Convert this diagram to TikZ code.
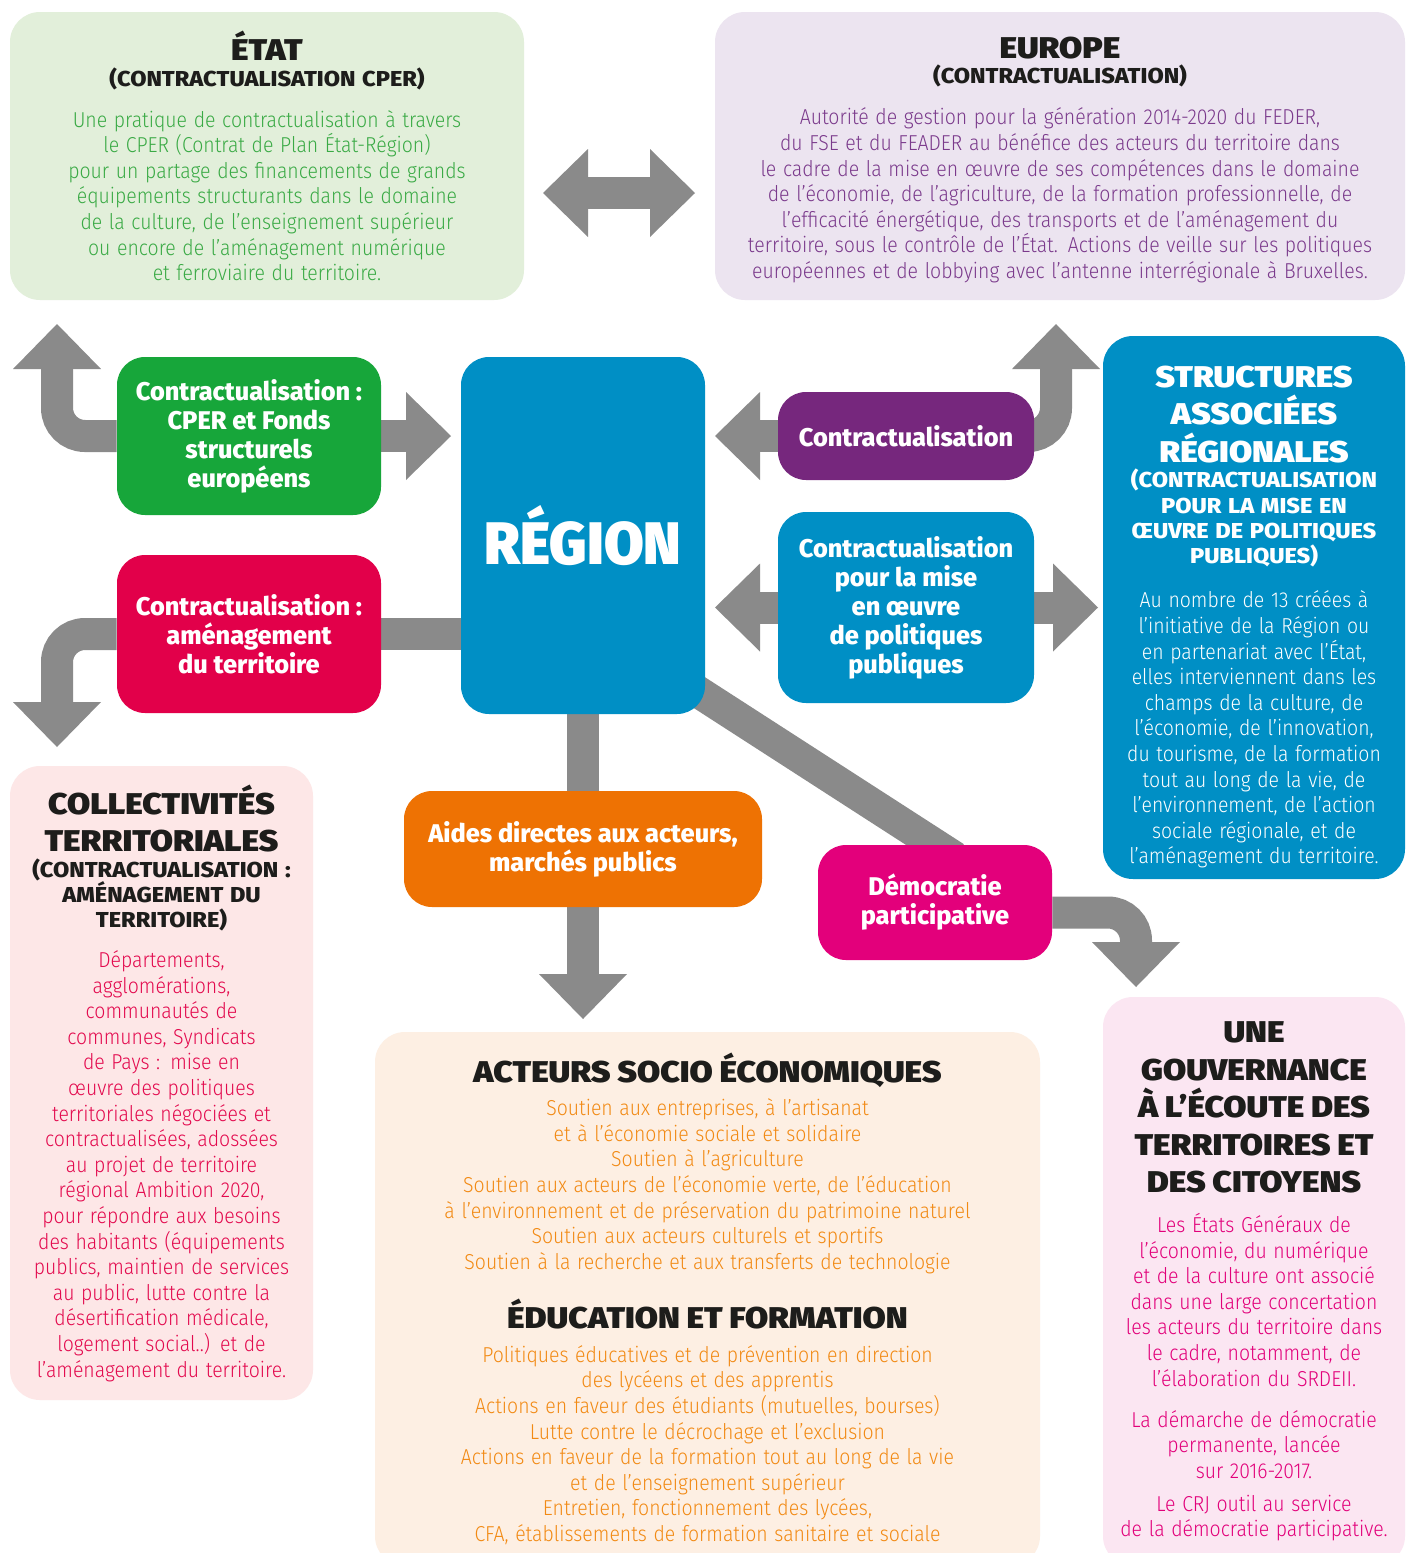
\documentclass[tikz,border=0pt]{standalone}
\usepackage{fontspec}
\usetikzlibrary{arrows.meta}
\newfontfamily\bodyfont{Fira Sans Light}[FakeStretch=0.9]
\newfontfamily\labelfont{Fira Sans ExtraBold}[FakeStretch=0.99]
\newfontfamily\subfont{Fira Sans ExtraBold}[FakeStretch=1.09]
\newfontfamily\titlefont{Fira Sans Black}[FakeStretch=1.12]
\newfontfamily\regionfont{Fira Sans Black}[FakeStretch=0.96]
\setlength{\parindent}{0pt}

\definecolor{arrowgray}{HTML}{8A8A8A}
\definecolor{inkblack}{HTML}{1D1D1B}
\definecolor{etatbg}{HTML}{E2EFDA}
\definecolor{etattext}{HTML}{3AAA45}
\definecolor{europebg}{HTML}{ECE4F0}
\definecolor{europetext}{HTML}{7B3A8C}
\definecolor{regionblue}{HTML}{008FC5}
\definecolor{collectbg}{HTML}{FDE7E7}
\definecolor{collecttext}{HTML}{E30A4E}
\definecolor{acteursbg}{HTML}{FDEFE3}
\definecolor{acteurstext}{HTML}{F28A14}
\definecolor{gouvbg}{HTML}{FBE6F2}
\definecolor{gouvtext}{HTML}{E2007A}
\definecolor{greenbox}{HTML}{17A63A}
\definecolor{redbox}{HTML}{E2004A}
\definecolor{purplebox}{HTML}{76277D}
\definecolor{orangebox}{HTML}{EE7203}
\definecolor{demobox}{HTML}{E3007B}

\newcommand{\paneltitle}[2][inkblack]{{\color{#1}\titlefont\fontsize{15}{18.75}\selectfont #2\par}}
\newcommand{\panelsub}[2][inkblack]{{\color{#1}\subfont\fontsize{10.8}{12.7}\selectfont #2\par}}
\newcommand{\panelbody}{\bodyfont\fontsize{10.8}{12.8}\selectfont}

\pgfdeclarelayer{bg}
\pgfsetlayers{bg,main}

\begin{document}
\begin{tikzpicture}[x=0.5pt,y=-0.5pt,
  >={Triangle[width=44pt,length=22.5pt,line width=0pt]},
  panel/.style={rectangle,rounded corners=15pt,align=center,inner sep=0pt},
  tag/.style={rectangle,rounded corners=14pt,align=center,inner sep=0pt,text=white,
    font=\labelfont\fontsize{12.8}{14.5}\selectfont},
  flow/.style={draw=arrowgray,line width=16pt,rounded corners=14pt}]
\useasboundingbox (0,0) rectangle (1410,1553);

% big panels
\node[panel,fill=etatbg,text=etattext,minimum width=257pt,minimum height=144pt,text width=257pt] (etat) at (267,156) {%
  \paneltitle{ÉTAT}\panelsub{(CONTRACTUALISATION CPER)}\vskip 7.7pt
  \panelbody Une pratique de contractualisation à travers\\ le CPER (Contrat de Plan État-Région)\\
  pour un partage des financements de grands\\ équipements structurants dans le domaine\\
  de la culture, de l’enseignement supérieur\\ ou encore de l’aménagement numérique\\ et ferroviaire du territoire.\par};
\node[panel,fill=europebg,text=europetext,minimum width=345pt,minimum height=144pt,text width=345pt] (europe) at (1060,156) {%
  \paneltitle{\vphantom{É}EUROPE}\panelsub{(CONTRACTUALISATION)}\vskip 7.7pt
  \panelbody Autorité de gestion pour la génération 2014-2020 du FEDER,\\
  du FSE et du FEADER au bénéfice des acteurs du territoire dans\\
  le cadre de la mise en œuvre de ses compétences dans le domaine\\
  de l’économie, de l’agriculture, de la formation professionnelle, de\\
  l’efficacité énergétique, des transports et de l’aménagement du\\
  territoire, sous le contrôle de l’État. Actions de veille sur les politiques\\
  européennes et de lobbying avec l’antenne interrégionale à Bruxelles.\par};
\node[panel,fill=regionblue,text=white,minimum width=151pt,minimum height=271.5pt,text width=151pt] (struct) at (1254,607.5) {%
  \vskip 1.5pt
  \paneltitle[white]{STRUCTURES\\ ASSOCIÉES\\ RÉGIONALES}%
  \panelsub[white]{(CONTRACTUALISATION\\ POUR LA MISE EN\\ ŒUVRE DE POLITIQUES\\ PUBLIQUES)}\vskip 9.2pt
  \panelbody Au nombre de 13 créées à\\ l’initiative de la Région ou\\ en partenariat avec l’État,\\
  elles interviennent dans les\\ champs de la culture, de\\ l’économie, de l’innovation,\\
  du tourisme, de la formation\\ tout au long de la vie, de\\ l’environnement, de l’action\\
  sociale régionale, et de\\ l’aménagement du territoire.\par};
\node[panel,fill=collectbg,text=collecttext,minimum width=151.5pt,minimum height=317pt,text width=151.5pt] (collect) at (161.5,1083) {%
  \paneltitle{COLLECTIVITÉS\\ TERRITORIALES}%
  \panelsub{(CONTRACTUALISATION :\\ AMÉNAGEMENT DU\\ TERRITOIRE)}\vskip 7pt
  \panelbody Départements,\\ agglomérations,\\ communautés de\\ communes, Syndicats\\
  de Pays : mise en\\ œuvre des politiques\\ territoriales négociées et\\ contractualisées, adossées\\
  au projet de territoire\\ régional Ambition 2020,\\ pour répondre aux besoins\\
  des habitants (équipements\\ publics, maintien de services\\ au public, lutte contre la\\
  désertification médicale,\\ logement social..) et de\\ l’aménagement du territoire.\par};
\node[panel,fill=acteursbg,text=acteurstext,minimum width=332.5pt,minimum height=267pt,text width=332.5pt] (acteurs) at (707.5,1299) {%
  \paneltitle{ACTEURS SOCIO ÉCONOMIQUES}\vskip 3.7pt
  \panelbody Soutien aux entreprises, à l’artisanat\\ et à l’économie sociale et solidaire\\
  Soutien à l’agriculture\\ Soutien aux acteurs de l’économie verte, de l’éducation\\
  à l’environnement et de préservation du patrimoine naturel\\ Soutien aux acteurs culturels et sportifs\\
  Soutien à la recherche et aux transferts de technologie\par\vskip 10.7pt
  \paneltitle{ÉDUCATION ET FORMATION}\vskip 4.2pt
  \panelbody Politiques éducatives et de prévention en direction\\ des lycéens et des apprentis\\
  Actions en faveur des étudiants (mutuelles, bourses)\\ Lutte contre le décrochage et l’exclusion\\
  Actions en faveur de la formation tout au long de la vie\\ et de l’enseignement supérieur\\
  Entretien, fonctionnement des lycées,\\ CFA, établissements de formation sanitaire et sociale\par};
\node[panel,fill=gouvbg,text=gouvtext,minimum width=151pt,minimum height=284.5pt,text width=151pt] (gouv) at (1254,1281.5) {%
  \paneltitle{UNE\\ GOUVERNANCE\\ À L’ÉCOUTE DES\\ TERRITOIRES ET\\ DES CITOYENS}\vskip 7.2pt
  \panelbody Les États Généraux de\\ l’économie, du numérique\\ et de la culture ont associé\\
  dans une large concertation\\ les acteurs du territoire dans\\ le cadre, notamment, de\\
  l’élaboration du SRDEII.\par\vskip 7.7pt
  La démarche de démocratie\\ permanente, lancée\\ sur 2016-2017.\par\vskip 3.7pt
  Le CRJ outil au service\\ de la démocratie participative.\par};

% small boxes
\node[tag,fill=greenbox,minimum width=132pt,minimum height=79pt] (green) at (249,436) {Contractualisation~:\\ CPER et Fonds\\ structurels\\ européens};
\node[tag,fill=redbox,minimum width=132pt,minimum height=79pt] (red) at (249,634) {Contractualisation~:\\ aménagement\\ du territoire};
\node[tag,fill=regionblue,minimum width=122pt,minimum height=178.5pt,font=\regionfont\fontsize{30}{30}\selectfont] (region) at (583,535.5) {RÉGION};
\node[tag,fill=purplebox,minimum width=128pt,minimum height=44pt] (purple) at (906,436) {Contractualisation};
\node[tag,fill=regionblue,minimum width=128pt,minimum height=95.5pt] (policy) at (906,607.5) {Contractualisation\\ pour la mise\\ en œuvre\\ de politiques\\ publiques};
\node[tag,fill=orangebox,minimum width=179pt,minimum height=58pt] (aides) at (583,849) {Aides directes aux acteurs,\\ marchés publics};
\node[tag,fill=demobox,minimum width=117pt,minimum height=57.5pt] (demo) at (935,902.5) {Démocratie\\ participative};

\coordinate (dblL) at (543,193);
\coordinate (dblR) at (695,193);
\coordinate (upL) at (57,324);
\coordinate (toReg) at (451,436);
\coordinate (downL) at (57,747);
\coordinate (purpTip) at (715,436);
\coordinate (upR) at (1056,324);
\coordinate (polL) at (715,607.5);
\coordinate (polR) at (1098,607.5);
\coordinate (downM) at (583,1019);
\coordinate (diagS) at (655,664);
\coordinate (downR) at (1136,987);

\begin{pgfonlayer}{bg}
\fill[white] (0,0) rectangle (1410,1553);
\draw[flow,<->] (dblL) -- (dblR);
\draw[flow,->] (green.west) -| (upL);
\draw[flow,->] (green.east) -- (toReg);
\draw[flow] (red.east) -- (red.east -| region.center);
\draw[flow,->] (red.west) -| (downL);
\draw[flow,->] (purple.west) -- (purpTip);
\draw[flow,->] (purple.east) -| (upR);
\draw[flow,->] (policy.west) -- (polL);
\draw[flow,->] (policy.east) -- (polR);
\draw[flow] (region.south) -- (aides.north);
\draw[flow,->] (aides.south) -- (downM);
\draw[flow,shorten >=-12pt] (diagS) -- (demo.north);
\draw[flow,->] ([yshift=-5pt]demo.east) -| (downR);
\end{pgfonlayer}
\end{tikzpicture}
\end{document}
